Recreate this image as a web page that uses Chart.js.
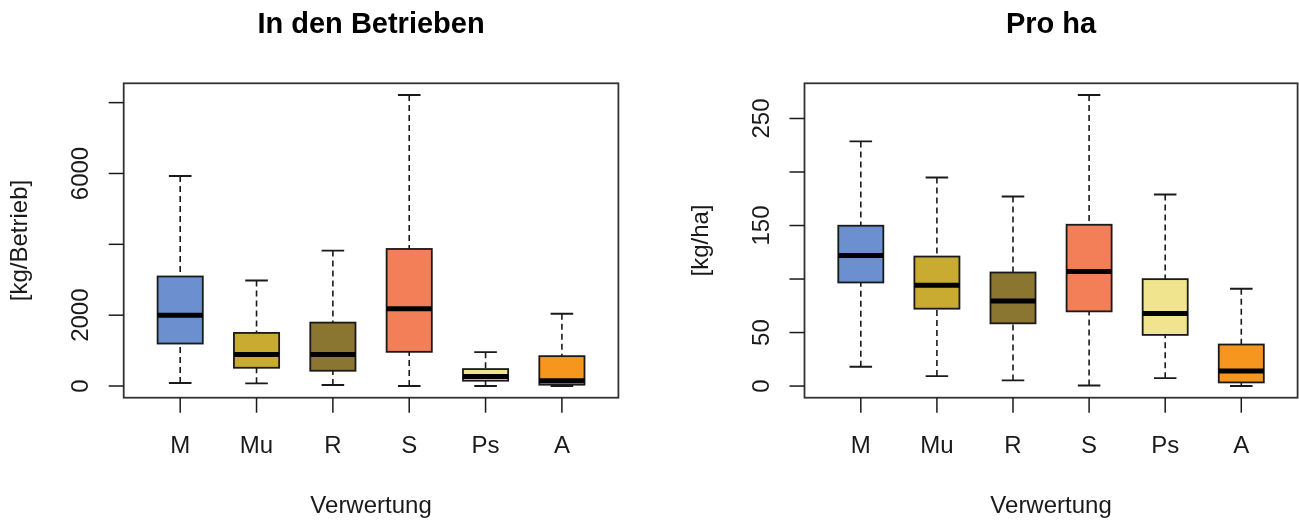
<!DOCTYPE html>
<html>
<head>
<meta charset="utf-8">
<title>Verwertung – In den Betrieben / Pro ha</title>
<script src="https://cdn.jsdelivr.net/npm/chart.js@4/dist/chart.umd.min.js"></script>
<style>
  html, body { margin: 0; padding: 0; background: #fff; }
  #wrap { position: relative; width: 1299px; height: 521px; }
  #wrap canvas { position: absolute; left: 0; top: 0; }
</style>
</head>
<body>
<div id="wrap">
  <canvas id="betrieb" width="1299" height="521"></canvas>
  <canvas id="hektar" width="1299" height="521"></canvas>
</div>
<script>
// Categories (Verwertung) and box fill colours
const categories = ['M', 'Mu', 'R', 'S', 'Ps', 'A'];
const boxColors = ['#6b8fcf', '#c9ab31', '#8a7531', '#f27f58', '#f1e48f', '#f7961e'];

// In den Betrieben [kg/Betrieb]: whisker ends, quartiles, median
const betriebLow    = [84, 75, 28, 0, 0, 0];
const betriebQ1     = [1199, 515, 431, 965, 150, 37];
const betriebMedian = [1996, 890, 890, 2183, 272, 150];
const betriebQ3     = [3092, 1499, 1790, 3869, 478, 843];
const betriebHigh   = [5931, 2979, 3823, 8217, 956, 2042];
const betriebTicks      = [0, 2000, 4000, 6000, 8000];
const betriebTickLabels = ['0', '2000', '', '6000', ''];

// Pro ha [kg/ha]
const haLow    = [18.0, 9.3, 5.3, 0.5, 7.4, 0];
const haQ1     = [96.8, 72.3, 58.6, 69.8, 47.8, 3.4];
const haMedian = [121.9, 94.3, 79.4, 107.0, 67.9, 14.0];
const haQ3     = [149.8, 121.0, 106.1, 150.7, 99.9, 38.8];
const haHigh   = [228.6, 194.8, 177.1, 272.0, 179.0, 90.9];
const haTicks      = [0, 50, 100, 150, 200, 250];
const haTickLabels = ['0', '50', '', '150', '', '250'];

const FONT = '"Liberation Sans", Arial, Helvetica, sans-serif';
const INK = '#1a1a1a';
const FRAME = '#333333';

// Whiskers, caps and medians on top of the floating-bar boxes,
// plus an R-style frame with ticks, labels and titles.
const boxplotPlugin = {
  id: 'rBoxplot',
  afterDatasetsDraw(chart, args, o) {
    const { ctx, scales: { x, y } } = chart;
    const meta = chart.getDatasetMeta(0);
    ctx.save();
    o.median.forEach((m, i) => {
      const bar = meta.data[i];
      const cx = x.getPixelForValue(i + 1);
      const half = bar.width / 2;
      const capHalf = half / 2;
      const pLow = y.getPixelForValue(o.low[i]);
      const pQ1 = y.getPixelForValue(o.q1[i]);
      const pQ3 = y.getPixelForValue(o.q3[i]);
      const pHigh = y.getPixelForValue(o.high[i]);

      // dashed whiskers from the whisker end towards the box
      ctx.strokeStyle = INK;
      ctx.lineWidth = 1.6;
      ctx.setLineDash([6, 4]);
      ctx.beginPath();
      ctx.moveTo(cx, pLow); ctx.lineTo(cx, pQ1);
      ctx.moveTo(cx, pHigh); ctx.lineTo(cx, pQ3);
      ctx.stroke();

      // caps
      ctx.setLineDash([]);
      ctx.lineWidth = 1.9;
      ctx.beginPath();
      ctx.moveTo(cx - capHalf, pLow); ctx.lineTo(cx + capHalf, pLow);
      ctx.moveTo(cx - capHalf, pHigh); ctx.lineTo(cx + capHalf, pHigh);
      ctx.stroke();

      // box outline over whisker ends
      ctx.lineWidth = 1.8;
      ctx.strokeStyle = INK;
      ctx.strokeRect(cx - half, pQ3, half * 2, pQ1 - pQ3);

      // median
      const pMed = y.getPixelForValue(m);
      ctx.strokeStyle = '#000';
      ctx.lineWidth = 5;
      ctx.lineCap = 'butt';
      ctx.beginPath();
      ctx.moveTo(cx - half, pMed); ctx.lineTo(cx + half, pMed);
      ctx.stroke();
    });
    ctx.restore();
  },
  afterDraw(chart, args, o) {
    const { ctx, chartArea: a, scales: { x, y } } = chart;
    ctx.save();
    ctx.setLineDash([]);

    // frame
    ctx.strokeStyle = FRAME;
    ctx.lineWidth = 1.8;
    ctx.strokeRect(a.left, a.top, a.right - a.left, a.bottom - a.top);

    // y ticks and rotated labels
    ctx.strokeStyle = INK;
    ctx.lineWidth = 1.5;
    ctx.fillStyle = INK;
    ctx.font = '24px ' + FONT;
    ctx.textAlign = 'center';
    ctx.textBaseline = 'alphabetic';
    o.ticks.forEach((v, i) => {
      const py = y.getPixelForValue(v);
      ctx.beginPath();
      ctx.moveTo(a.left - 15, py); ctx.lineTo(a.left, py);
      ctx.stroke();
      if (o.tickLabels[i]) {
        ctx.save();
        ctx.translate(a.left - 35.5, py);
        ctx.rotate(-Math.PI / 2);
        ctx.fillText(o.tickLabels[i], 0, 0);
        ctx.restore();
      }
    });

    // x ticks and category labels
    categories.forEach((c, i) => {
      const px = x.getPixelForValue(i + 1);
      ctx.beginPath();
      ctx.moveTo(px, a.bottom); ctx.lineTo(px, a.bottom + 15);
      ctx.stroke();
      ctx.fillText(c, px, 453);
    });

    // axis titles
    const midX = (a.left + a.right) / 2;
    const midY = (a.top + a.bottom) / 2;
    ctx.fillText(o.xTitle, midX, 513);
    ctx.save();
    ctx.translate(a.left - 96.5, midY);
    ctx.rotate(-Math.PI / 2);
    ctx.fillText(o.yTitle, 0, 0);
    ctx.restore();

    // main title
    ctx.font = 'bold 29px ' + FONT;
    ctx.fillStyle = '#000';
    ctx.fillText(o.title, midX, 32.7);
    ctx.restore();
  }
};

function makeBoxplot(id, s) {
  return new Chart(document.getElementById(id), {
    type: 'bar',
    data: {
      datasets: [{
        data: s.q1.map((q, i) => ({ x: i + 1, y: [q, s.q3[i]] })),
        backgroundColor: boxColors,
        borderColor: INK,
        borderWidth: 0,
        borderSkipped: false,
        barPercentage: 0.8,
        categoryPercentage: 1
      }]
    },
    options: {
      responsive: false,
      animation: false,
      devicePixelRatio: 1,
      events: [],
      layout: { padding: s.padding },
      plugins: {
        legend: { display: false },
        tooltip: { enabled: false },
        rBoxplot: s
      },
      scales: {
        x: { type: 'linear', min: 0.26, max: 6.74, offset: false, display: false },
        y: { type: 'linear', min: s.ymin, max: s.ymax, display: false }
      }
    },
    plugins: [boxplotPlugin]
  });
}

makeBoxplot('betrieb', {
  low: betriebLow, q1: betriebQ1, median: betriebMedian, q3: betriebQ3, high: betriebHigh,
  ticks: betriebTicks, tickLabels: betriebTickLabels,
  ymin: -330, ymax: 8546,
  title: 'In den Betrieben', yTitle: '[kg/Betrieb]', xTitle: 'Verwertung',
  padding: { left: 123.7, right: 1299 - 618.4, top: 83.3, bottom: 521 - 397.7 }
});

makeBoxplot('hektar', {
  low: haLow, q1: haQ1, median: haMedian, q3: haQ3, high: haHigh,
  ticks: haTicks, tickLabels: haTickLabels,
  ymin: -10.88, ymax: 282.88,
  title: 'Pro ha', yTitle: '[kg/ha]', xTitle: 'Verwertung',
  padding: { left: 804.5, right: 1299 - 1297.6, top: 83.3, bottom: 521 - 397.7 }
});
</script>
</body>
</html>
